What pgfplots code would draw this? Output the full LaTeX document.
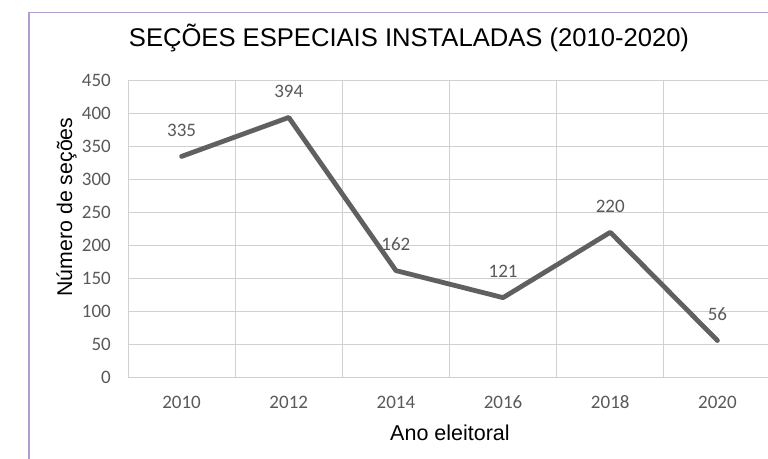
\documentclass[border=0pt]{standalone}
\usepackage{pgfplots}
\pgfplotsset{compat=1.18}
\usepackage{fontspec}
\setmainfont{Liberation Sans}
\newfontfamily\carlito{Carlito}
\definecolor{gridgray}{RGB}{208,208,208}
\definecolor{labgray}{RGB}{89,89,89}
\definecolor{linegray}{RGB}{96,96,96}
\definecolor{framecol}{RGB}{180,155,205}
\begin{document}
\begin{tikzpicture}[x=1pt,y=1pt]
\useasboundingbox[fill=white] (0,0) rectangle (768,458);
\draw[framecol, line width=1.3pt] (29,-5) -- (29,445.5) -- (800,445.5);
\begin{axis}[
  at={(128pt,80.5pt)}, anchor=south west,
  scale only axis, width=643pt, height=297pt,
  xmin=2009, xmax=2021, ymin=0, ymax=450,
  xtick={2010,2012,...,2020},
  minor xtick={2009,2011,...,2021},
  ytick={0,50,...,450},
  xminorgrids, ymajorgrids,
  grid style={gridgray, line width=1pt},
  minor grid style={gridgray, line width=1pt},
  axis line style={draw=none},
  major tick length=0pt, minor tick length=0pt,
  tick style={draw=none},
  /pgf/number format/assume math mode=true,
  /pgf/number format/1000 sep={},
  ticklabel style={font=\carlito\fontsize{19}{19}\selectfont, text=labgray, inner sep=0pt},
  xticklabel style={anchor=base, yshift=-31pt},
  yticklabel style={anchor=east, xshift=-17pt},
  clip=false,
  nodes near coords,
  every node near coord/.append style={anchor=center, yshift=26pt, font=\carlito\fontsize{19}{19}\selectfont, text=labgray, inner sep=0pt},
]
\addplot[linegray, line width=4.8pt, line join=round, line cap=round]
  coordinates {(2010,335) (2012,394) (2014,162) (2016,121) (2018,220) (2020,56)};
\end{axis}
\node[anchor=base, font=\fontsize{25.6}{26}\selectfont, text=black] at (409,411) {SEÇÕES ESPECIAIS INSTALADAS (2010-2020)};
\node[anchor=base, font=\fontsize{21.5}{22}\selectfont, text=black] at (450,18) {Ano eleitoral};
\node[anchor=base, rotate=90, font=\fontsize{21.3}{22}\selectfont, text=black] at (72,251) {Número de seções};
\end{tikzpicture}
\end{document}
